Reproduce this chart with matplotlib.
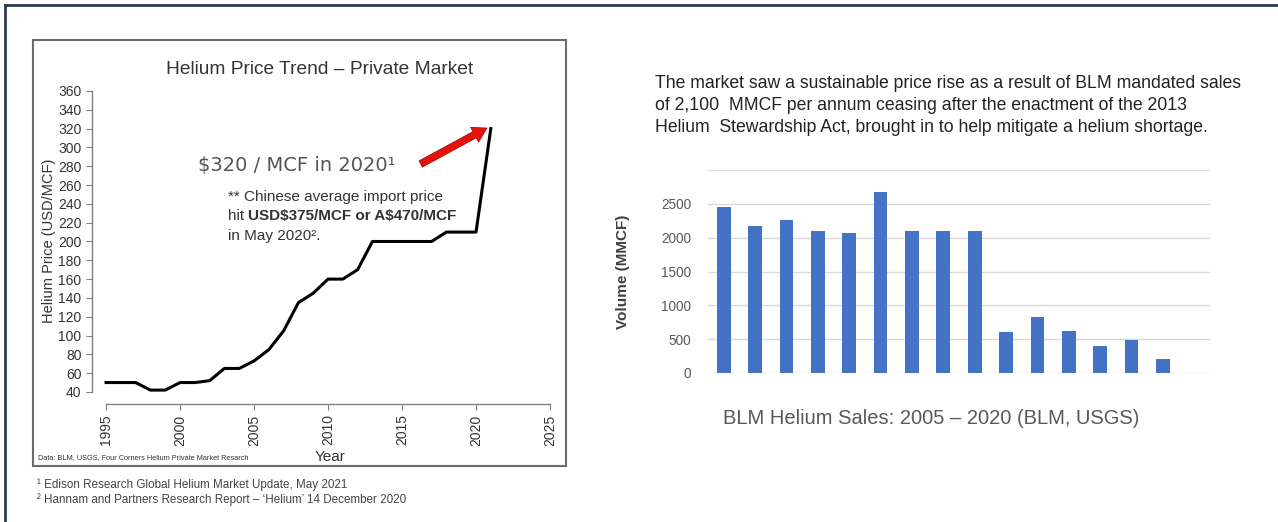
import matplotlib.pyplot as plt
from matplotlib.patches import Rectangle
from matplotlib.lines import Line2D

plt.rcParams['font.family'] = ['Liberation Sans', 'DejaVu Sans']

# price trend (USD/MCF)
years = [1995, 1996, 1997, 1998, 1999, 2000, 2001, 2002, 2003, 2004, 2005, 2006, 2007,
         2008, 2009, 2010, 2011, 2012, 2013, 2014, 2015, 2016, 2017, 2018, 2019, 2020, 2021]
price = [50, 50, 50, 42, 42, 50, 50, 52, 65, 65, 73, 85, 105,
         135, 145, 160, 160, 170, 200, 200, 200, 200, 200, 210, 210, 210, 320]

# BLM sales (MMCF), 2005-2020 (last year no bar)
sales_years = list(range(2005, 2021))
sales = [2460, 2170, 2265, 2100, 2070, 2670, 2100, 2100, 2100, 600, 830, 625, 395, 495, 205, 0]

W, H = 1278, 522
fig = plt.figure(figsize=(W / 100, H / 100), dpi=100)


def box(l, t, r, b):
    return [l / W, 1 - b / H, (r - l) / W, (b - t) / H]


def fx(x):
    return x / W


def fy(y):
    return 1 - y / H


# outer frame (top + left)
fig.add_artist(Line2D([fx(5), 1], [fy(4.5), fy(4.5)], color='#2e3b4c', lw=2))
fig.add_artist(Line2D([fx(5), fx(5)], [fy(4.5), 0], color='#2e3b4c', lw=2))

# left chart frame
fig.add_artist(Rectangle((fx(33), fy(466)), fx(566 - 33), (466 - 40) / H,
                         fill=False, ec='#6b6b6b', lw=1.5))

# ---- line chart ----
ax = fig.add_axes(box(92, 91, 550, 404))
ax.plot(years, price, color='black', lw=2.2, solid_joinstyle='round')
ax.set_xlim(1994.05, 2025)
ax.set_ylim(27.2, 360)
ax.spines['top'].set_visible(False)
ax.spines['right'].set_visible(False)
ax.spines['left'].set_bounds(40, 360)
ax.spines['bottom'].set_bounds(1995, 2025)
for s in ['left', 'bottom']:
    ax.spines[s].set_color('#808080')
    ax.spines[s].set_linewidth(1)
ax.set_yticks(range(40, 361, 20))
ax.set_xticks(range(1995, 2026, 5))
ax.tick_params(axis='both', colors='#808080', labelcolor='#333333', labelsize=10, length=4)
ax.tick_params(axis='x', labelrotation=90)
ax.set_ylabel('Helium Price (USD/MCF)', fontsize=10.5, color='#333333')
ax.yaxis.set_label_coords(-0.078, 0.52)
ax.set_xlabel('Year', fontsize=11, color='#333333')
ax.xaxis.set_label_coords(0.52, -0.148)

ax.annotate('', xy=(2020.9, 322), xytext=(2016.1, 281),
            arrowprops=dict(arrowstyle='simple,head_length=1.0,head_width=1.2,tail_width=0.5',
                            fc='#e8120c', ec='#9c1010', lw=0.6))

fig.text(fx(198), fy(165), '\\$320 / MCF in 2020¹', fontsize=14, color='#555555',
         family=['DejaVu Sans'], va='center', ha='left')
fig.text(fx(228), fy(197), '** Chinese average import price', fontsize=11,
         color='#333333', va='center')
t1 = fig.text(fx(228), fy(216), 'hit ', fontsize=11, color='#333333', va='center')
ax.annotate('USD\\$375/MCF or A\\$470/MCF', xy=(1, 0.5), xycoords=t1, va='center',
            ha='left', fontsize=11, fontweight='bold', color='#333333')
fig.text(fx(228), fy(236), 'in May 2020².', fontsize=11, color='#333333', va='center')

fig.text(fx(320), fy(70), 'Helium Price Trend \u2013 Private Market', fontsize=13.8,
         color='#333333', ha='center', va='center')
fig.text(fx(38), fy(458), 'Data: BLM, USGS, Four Corners Helium Private Market Resarch',
         fontsize=5.3, color='#333333', va='center')

fig.text(fx(37), fy(485), '¹ Edison Research Global Helium Market Update, May 2021',
         fontsize=8.4, color='#444444', va='center')
fig.text(fx(37), fy(500), '² Hannam and Partners Research Report \u2013 \u2018Helium\u2019 14 December 2020',
         fontsize=8.4, color='#444444', va='center')

# ---- bar chart ----
bx = fig.add_axes(box(708, 170, 1210, 373))
pos = list(range(len(sales_years)))
bx.bar(pos, sales, width=0.44, color='#4472c4', zorder=3)
bx.set_xlim(-0.5, len(sales_years) - 0.5)
bx.set_ylim(0, 3000)
bx.set_yticks(range(0, 3001, 500))
bx.set_yticklabels([str(v) for v in range(0, 2501, 500)] + [''])
bx.set_xticks([])
bx.grid(axis='y', color='#d9d9d9', lw=1, zorder=0)
for s in bx.spines.values():
    s.set_visible(False)
bx.tick_params(axis='y', length=0, labelsize=9.8, labelcolor='#595959', pad=12)
bx.set_ylabel('Volume (MMCF)', fontsize=11, color='#404040', fontweight='bold')
bx.yaxis.set_label_coords(-(708 - 630) / 502, 0.5)

para = ['The market saw a sustainable price rise as a result of BLM mandated sales',
        'of 2,100  MMCF per annum ceasing after the enactment of the 2013',
        'Helium  Stewardship Act, brought in to help mitigate a helium shortage.']
for line, y in zip(para, [83, 105, 128]):
    fig.text(fx(655), fy(y), line, fontsize=12.7, color='#222222', va='center')

fig.text(fx(931), fy(419), 'BLM Helium Sales: 2005 \u2013 2020 (BLM, USGS)', fontsize=14.5,
         color='#595959', ha='center', va='center')

fig.savefig('out.png', dpi=100)
